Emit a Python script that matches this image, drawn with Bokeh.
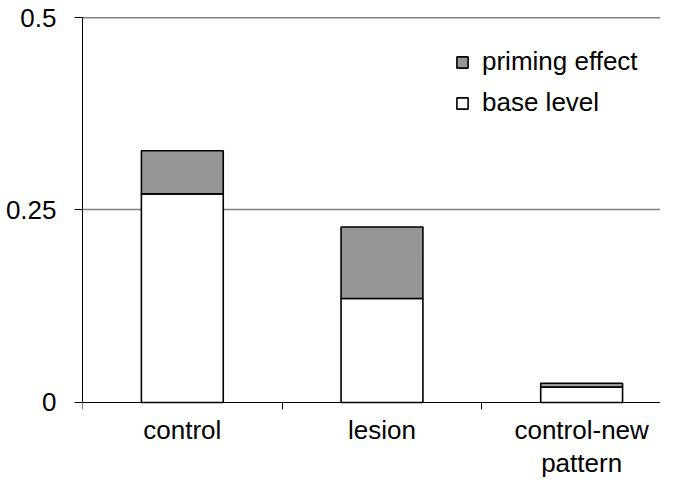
from bokeh.plotting import figure
from bokeh.models import (ColumnDataSource, FixedTicker, Legend, LegendItem, Span, Range1d)
from bokeh.embed import file_html
from bokeh.resources import INLINE

categories = ["control", "lesion", "control-new\npattern"]
base_level = [0.271, 0.135, 0.020]
priming_effect = [0.056, 0.093, 0.005]
y_ticks = [0, 0.25, 0.5]
y_tick_labels = ["0", "0.25", "0.5"]

FONT = "Liberation Sans"
FS = "26px"

xpos = [i + 0.5 for i in range(len(categories))]
src = ColumnDataSource(dict(x=xpos, base=base_level, priming=priming_effect))

# frame runs below zero so the category labels (drawn by the x axis pinned at y=0) have room
p = figure(width=660, height=481, output_backend="svg", toolbar_location=None,
           x_range=Range1d(0, 2.895), y_range=Range1d(-0.1026, 0.5),
           min_border_left=82, min_border_right=0, min_border_top=17, min_border_bottom=0)
p.outline_line_color = None
p.background_fill_color = "white"
p.border_fill_color = "white"

rs = p.vbar_stack(["base", "priming"], x="x", width=0.41, source=src,
                  color=["white", "#969696"], line_color="black", line_width=1.6)

# y axis
p.yaxis.ticker = FixedTicker(ticks=y_ticks)
p.yaxis.bounds = (0, 0.5)
p.yaxis.major_label_overrides = {t: l for t, l in zip(y_ticks, y_tick_labels)}
p.yaxis.major_tick_out = 8
p.yaxis.major_tick_in = 0
p.yaxis.minor_tick_line_color = None
p.yaxis.major_label_standoff = 18
p.yaxis.axis_line_color = "black"
p.yaxis.major_label_text_font = FONT
p.yaxis.major_label_text_font_size = FS
p.yaxis.major_label_text_color = "black"

# x axis pinned at y = 0
p.xaxis.fixed_location = 0
p.xaxis.ticker = FixedTicker(ticks=xpos, minor_ticks=[0, 1, 2, 3])
p.xaxis.major_label_overrides = {x: c for x, c in zip(xpos, categories)}
p.xaxis.major_tick_line_color = None
p.xaxis.major_tick_out = 0
p.xaxis.major_tick_in = 0
p.xaxis.minor_tick_out = 7
p.xaxis.minor_tick_in = 0
p.xaxis.minor_tick_line_color = "black"
p.xaxis.major_label_standoff = 6
p.xaxis.major_label_text_font = FONT
p.xaxis.major_label_text_font_size = FS
p.xaxis.major_label_text_color = "black"
p.xaxis.major_label_text_line_height = 1.1
p.xaxis.axis_line_color = "black"

p.xgrid.grid_line_color = None
p.ygrid.ticker = FixedTicker(ticks=[0.25])
p.ygrid.grid_line_color = "#808080"
p.ygrid.grid_line_width = 1.5

p.add_layout(Span(location=0.5, dimension="width", line_color="black", line_width=1.5))

legend = Legend(items=[LegendItem(label="priming effect", renderers=[rs[1]]),
                       LegendItem(label="base level", renderers=[rs[0]])],
                location=(373, 363), orientation="vertical")
legend.border_line_color = None
legend.background_fill_alpha = 0
legend.padding = 0
legend.margin = 0
legend.glyph_width = 14
legend.glyph_height = 14
legend.label_standoff = 13
legend.spacing = 10
legend.label_text_font = FONT
legend.label_text_font_size = FS
legend.label_text_color = "black"
p.add_layout(legend, "center")

open("out.html", "w").write(file_html(p, INLINE))
